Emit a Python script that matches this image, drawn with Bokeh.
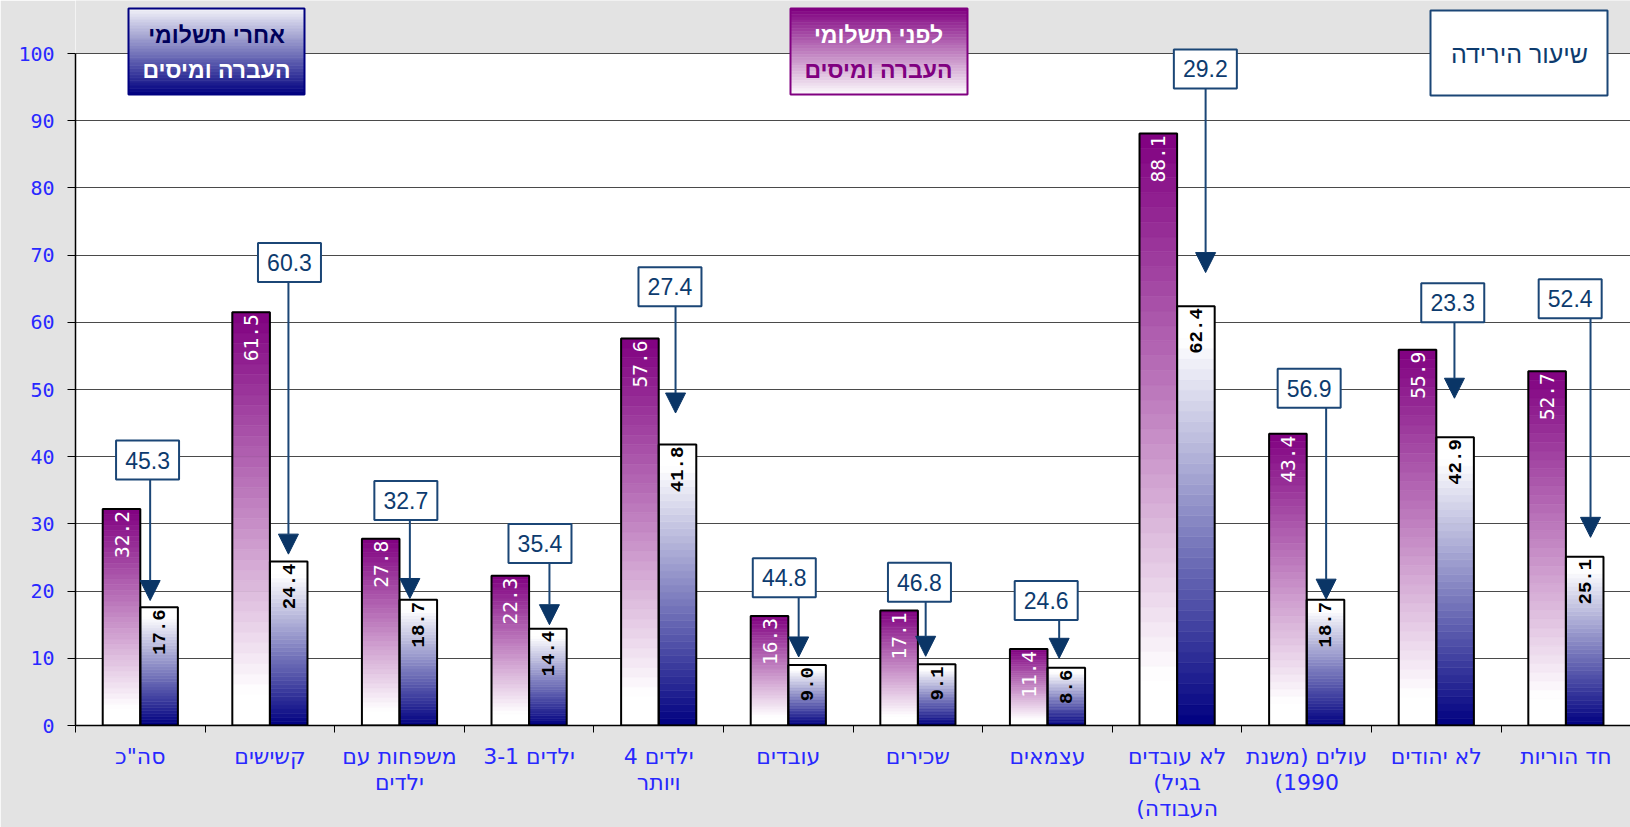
import numpy as np
from bokeh.plotting import figure
from bokeh.models import Range1d, FixedTicker, Arrow, NormalHead, ColumnDataSource
from bokeh.core.properties import value
from bokeh.embed import file_html
from bokeh.resources import INLINE

# ---------------- data ----------------
categories = [['סה"כ'], ["קשישים"], ["משפחות עם", "ילדים"], ["ילדים 3-1"], ["ילדים 4", "ויותר"],
              ["עובדים"], ["שכירים"], ["עצמאים"], ["לא עובדים", "בגיל)", "העבודה)"],
              ["עולים (משנת", "1990)"], ["לא יהודים"], ["חד הוריות"]]
before = [32.2, 61.5, 27.8, 22.3, 57.6, 16.3, 17.1, 11.4, 88.1, 43.4, 55.9, 52.7]
after = [17.6, 24.4, 18.7, 14.4, 41.8, 9.0, 9.1, 8.6, 62.4, 18.7, 42.9, 25.1]
decline = [45.3, 60.3, 32.7, 35.4, 27.4, 44.8, 46.8, 24.6, 29.2, 56.9, 23.3, 52.4]
y_ticks = [0, 10, 20, 30, 40, 50, 60, 70, 80, 90, 100]
legend_after = ["אחרי תשלומי", "העברה ומיסים"]
legend_before = ["לפני תשלומי", "העברה ומיסים"]
legend_rate = "שיעור הירידה"

# ---------------- layout (callout placement) ----------------
box_x = [0.556, 1.651, 2.549, 3.584, 4.587, 5.469, 6.512, 7.490, 8.718, 9.519, 10.627, 11.533]
box_y = [39.5, 68.9, 33.5, 27.1, 65.3, 22.0, 21.3, 18.6, 97.7, 50.2, 62.9, 63.5]
arrow_x = [0.576, 1.643, 2.58, 3.657, 4.63, 5.58, 6.56, 7.59, 8.72, 9.65, 10.64, 11.69]
tip_y = [18.6, 25.5, 18.9, 15.0, 46.5, 10.2, 10.3, 10.0, 67.4, 18.8, 48.7, 28.0]

W, H = 1630, 827
X0, PXC = 75.0, 129.6     # page px of x=0, px per category
Y0, PXU = 725.0, 6.72     # page px of y=0, px per unit
x_end = (W - X0) / PXC
y_end = Y0 / PXU


def px2x(X):
    return (X - X0) / PXC


def px2y(Y):
    return (Y0 - Y) / PXU


def mix(c1, c2, t):
    t = min(1.0, max(0.0, t))
    return "#%02x%02x%02x" % tuple(int(round(a + (b - a) * t)) for a, b in zip(c1, c2))


def rtl(lines):
    return "\n".join("\u202b" + s + "\u202c" for s in lines)


PURPLE = (128, 0, 128)
NAVY = (0, 0, 128)
WHITE = (255, 255, 255)
GRAY_BG = "#e3e3e3"
BLUE_TXT = "#2828ff"
BOX_LINE = "#1b4676"
BOX_TXT = "#0d3b6e"

p = figure(width=W, height=H, x_range=Range1d(0, x_end), y_range=Range1d(0, y_end),
           output_backend="svg", toolbar_location=None,
           min_border_left=int(X0), min_border_right=0, min_border_top=0,
           min_border_bottom=int(H - Y0), background_fill_color="white",
           border_fill_color=GRAY_BG, outline_line_color=None)

# gray area above 100
p.quad(left=[0], right=[x_end], bottom=[100], top=[y_end + 1], fill_color=GRAY_BG,
       line_color=None, level="image")

# ---------------- gradient bars ----------------
BW = 0.29
N = 40
seg = dict(x=[], b=[], t=[], c=[])
for i, (vb, va) in enumerate(zip(before, after)):
    c = i + 0.5
    for k in range(N):
        s = 1 - (k + 0.5) / N  # 0 at top, 1 at bottom
        seg["x"].append(c - BW / 2)
        seg["b"].append(vb * k / N)
        seg["t"].append(vb * (k + 1) / N)
        seg["c"].append(mix(PURPLE, WHITE, s / 0.92))
        seg["x"].append(c + BW / 2)
        seg["b"].append(va * k / N)
        seg["t"].append(va * (k + 1) / N)
        seg["c"].append(mix(WHITE, NAVY, (s - 0.08) / 0.92))
src = ColumnDataSource(seg)
p.vbar(x="x", width=BW, bottom="b", top="t", fill_color="c", line_color="c",
       line_width=0.6, source=src)

xb = [i + 0.5 - BW / 2 for i in range(len(before))]
xa = [i + 0.5 + BW / 2 for i in range(len(after))]
p.vbar(x=xb, width=BW, bottom=0, top=before, fill_color=None, line_color="black", line_width=2)
p.vbar(x=xa, width=BW, bottom=0, top=after, fill_color=None, line_color="black", line_width=2)

p.text(x=xb, y=before, text=[f"{v:.1f}" for v in before], angle=np.pi / 2,
       text_align="right", text_baseline="middle", text_color="white",
       text_font=value("DejaVu Sans Mono"), text_font_size="19.5px", y_offset=2)
p.text(x=xa, y=after, text=[f"{v:.1f}" for v in after], angle=np.pi / 2,
       text_align="right", text_baseline="middle", text_color="black",
       text_font=value("Liberation Mono"), text_font_style="bold",
       text_font_size="19px", y_offset=2)

# ---------------- callouts ----------------
BOX_H = 39
for i in range(len(decline)):
    p.add_layout(Arrow(x_start=arrow_x[i], y_start=box_y[i] - BOX_H / 2 / PXU,
                       x_end=arrow_x[i], y_end=tip_y[i], line_color=BOX_LINE, line_width=2,
                       end=NormalHead(size=20, fill_color="#0a3566", line_color="#0a3566")))
p.rect(x=box_x, y=box_y, width=63, height=BOX_H, width_units="screen", height_units="screen",
       fill_color="white", line_color=BOX_LINE, line_width=2)
p.text(x=box_x, y=box_y, text=[f"{v:.1f}" for v in decline], text_align="center",
       text_baseline="middle", text_color=BOX_TXT, text_font=value("Liberation Sans"),
       text_font_size="23px")


# ---------------- legend boxes ----------------
def grad_box(X1, X2, Y1, Y2, ctop, cbot, line):
    M = 30
    xs_l, xs_r, ys_b, ys_t, cs = [], [], [], [], []
    for k in range(M):
        ya = Y1 + (Y2 - Y1) * k / M
        yb = Y1 + (Y2 - Y1) * (k + 1) / M
        xs_l.append(px2x(X1)); xs_r.append(px2x(X2))
        ys_t.append(px2y(ya)); ys_b.append(px2y(yb))
        cs.append(mix(ctop, cbot, (k + 0.5) / M))
    p.quad(left=xs_l, right=xs_r, bottom=ys_b, top=ys_t, fill_color=cs, line_color=cs,
           line_width=0.6)
    p.quad(left=[px2x(X1)], right=[px2x(X2)], bottom=[px2y(Y2)], top=[px2y(Y1)],
           fill_color=None, line_color=line, line_width=2)


grad_box(128, 304, 8, 94, (244, 244, 250), NAVY, "#000080")
p.text(x=[px2x(216)] * 2, y=[px2y(34), px2y(69)], text=legend_after, text_align="center",
       text_baseline="middle", text_color=["#00005a", "white"],
       text_font=value("Liberation Sans"), text_font_style="bold", text_font_size="23px")

grad_box(790, 967, 8, 94, PURPLE, (252, 250, 252), "#800080")
p.text(x=[px2x(878)] * 2, y=[px2y(34), px2y(69)], text=legend_before, text_align="center",
       text_baseline="middle", text_color=["white", "#800080"],
       text_font=value("Liberation Sans"), text_font_style="bold", text_font_size="23px")

p.quad(left=[px2x(1430)], right=[px2x(1607)], bottom=[px2y(95)], top=[px2y(10)],
       fill_color="white", line_color=BOX_LINE, line_width=2)
p.text(x=[px2x(1519)], y=[px2y(53)], text=[legend_rate], text_align="center",
       text_baseline="middle", text_color=BOX_TXT, text_font=value("Liberation Sans"),
       text_font_size="25px")

# ---------------- axes & grid ----------------
p.xgrid.visible = False
p.ygrid.ticker = FixedTicker(ticks=y_ticks)
p.ygrid.grid_line_color = "#4a4a4a"
p.ygrid.grid_line_width = 1

p.yaxis.ticker = FixedTicker(ticks=y_ticks)
p.yaxis.bounds = (0, 100)
p.yaxis.axis_line_color = "black"
p.yaxis.axis_line_width = 1.5
p.yaxis.major_tick_out = 8
p.yaxis.major_tick_in = 0
p.yaxis.minor_tick_line_color = None
p.yaxis.major_label_standoff = 13
p.yaxis.major_label_text_color = BLUE_TXT
p.yaxis.major_label_text_font = "DejaVu Sans Mono"
p.yaxis.major_label_text_font_size = "20px"

centers = [i + 0.5 for i in range(len(categories))]
p.xaxis.ticker = FixedTicker(ticks=centers, minor_ticks=list(range(len(categories) + 1)))
p.xaxis.major_label_overrides = {c: rtl(lab) for c, lab in zip(centers, categories)}
p.xaxis.major_tick_line_color = None
p.xaxis.minor_tick_out = 7
p.xaxis.minor_tick_in = 0
p.xaxis.minor_tick_line_color = "black"
p.xaxis.axis_line_color = "black"
p.xaxis.axis_line_width = 1.5
p.xaxis.major_label_standoff = 11
p.xaxis.major_label_text_color = BLUE_TXT
p.xaxis.major_label_text_font = "DejaVu Sans"
p.xaxis.major_label_text_font_size = "22px"
p.xaxis.major_label_text_line_height = 1.045

open("out.html", "w").write(file_html(p, INLINE))
